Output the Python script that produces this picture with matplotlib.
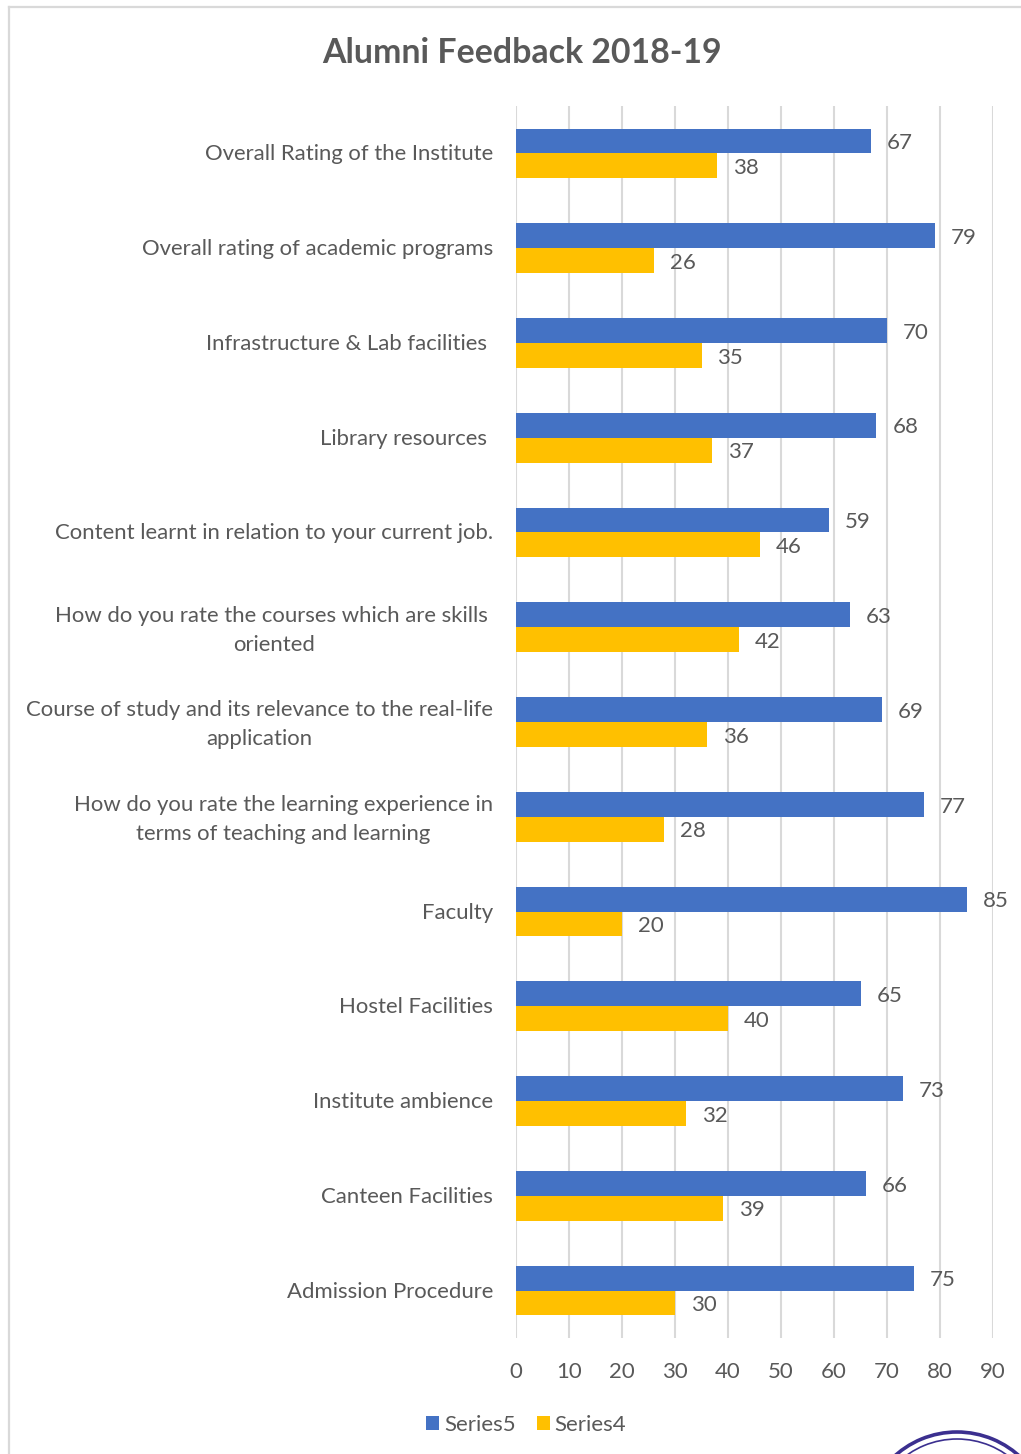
import matplotlib
matplotlib.use('Agg')
import matplotlib.pyplot as plt
from matplotlib.patches import Arc
from matplotlib.transforms import ScaledTranslation

plt.rcParams['font.family'] = ['Lato', 'DejaVu Sans']

categories = [
    'Overall Rating of the Institute',
    'Overall rating of academic programs',
    'Infrastructure & Lab facilities ',
    'Library resources ',
    'Content learnt in relation to your current job.',
    'How do you rate the courses which are skills \noriented',
    'Course of study and its relevance to the real-life\napplication',
    'How do you rate the learning experience in\nterms of teaching and learning',
    'Faculty',
    'Hostel Facilities',
    'Institute ambience',
    'Canteen Facilities',
    'Admission Procedure',
]
series5 = [67, 79, 70, 68, 59, 63, 69, 77, 85, 65, 73, 66, 75]
series4 = [38, 26, 35, 37, 46, 42, 36, 28, 20, 40, 32, 39, 30]
x_ticks = [0, 10, 20, 30, 40, 50, 60, 70, 80, 90]

W, H = 1021, 1454
text_col = '#595959'
grid_col = '#D9D9D9'
bar_h = 0.262

fig = plt.figure(figsize=(W / 100, H / 100), dpi=100)
ax = fig.add_axes([516 / W, 1 - 1338 / H, 477 / W, 1232 / H])

# outer chart frame, open at the right and bottom like the scan
fig.add_artist(plt.Line2D([9 / W, 9 / W], [0, 1 - 7 / H], color=grid_col, lw=1.6))
fig.add_artist(plt.Line2D([9 / W, 1], [1 - 7 / H, 1 - 7 / H], color=grid_col, lw=1.6))

pos = list(range(len(categories)))
blue = ax.barh([p - bar_h / 2 for p in pos], series5, height=bar_h, color='#4472C4', label='Series5', zorder=3)
yellow = ax.barh([p + bar_h / 2 for p in pos], series4, height=bar_h, color='#FFC000', label='Series4', zorder=3)

# labels sit a little lower than bar_label's centre line
for bars in (blue, yellow):
    for t in ax.bar_label(bars, padding=11.5, fontsize=16, color=text_col):
        t.xyann = (11.5, -1.6)

ax.set_xlim(0, 90)
ax.set_ylim(len(categories) - 0.5, -0.5)
ax.set_xticks(x_ticks)
ax.set_yticks(pos)
ax.set_yticklabels(categories, multialignment='center', linespacing=1.55)
ax.tick_params(axis='y', length=0, pad=16.5, labelsize=15.9, labelcolor=text_col)
ax.tick_params(axis='x', length=0, pad=17.5, labelsize=16, labelcolor=text_col)
# nudge category labels up, the wrapped ones a bit more
for t in ax.get_yticklabels():
    up = 3.5 if '\n' in t.get_text() else 1
    t.set_transform(t.get_transform() + ScaledTranslation(0, up / 100, fig.dpi_scale_trans))
ax.grid(axis='x', color=grid_col, lw=1.5, zorder=0)
ax.set_axisbelow(True)
for s in ax.spines.values():
    s.set_visible(False)

fig.text(521.5 / W, 1 - 53 / H, 'Alumni Feedback 2018-19', ha='center', va='center',
         fontsize=24.4, fontweight='bold', color=text_col)

fig.legend(loc='center', bbox_to_anchor=(526 / W, 1 - 1425 / H), ncol=2, frameon=False,
           fontsize=16, labelcolor=text_col, handlelength=0.62, handleheight=0.62,
           handletextpad=0.2, columnspacing=0.95)

# corner of the round stamp at the bottom right
stamp = fig.add_axes([0, 0, 1, 1], facecolor='none')
stamp.set_xlim(0, W)
stamp.set_ylim(H, 0)
stamp.axis('off')
stamp.add_patch(Arc((957, 1525), 186, 186, color='#3B2F8F', lw=2.6))
stamp.add_patch(Arc((957, 1525), 172, 172, color='#3B2F8F', lw=1.2))

fig.savefig('out.png', dpi=100)
